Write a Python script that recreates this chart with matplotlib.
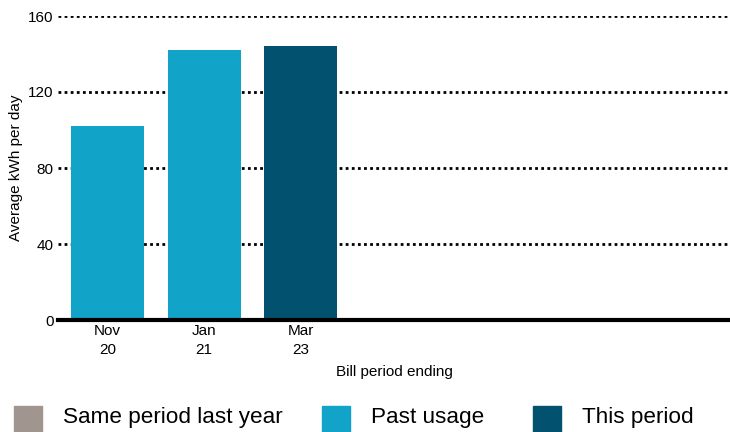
import matplotlib.pyplot as plt
from matplotlib.patches import Rectangle

plt.rcParams['font.family'] = ['Liberation Sans', 'DejaVu Sans']

periods = ["Nov\n20", "Jan\n21", "Mar\n23"]
usage = [102, 142, 144]
kinds = ["past", "past", "this"]
yticks = [0, 40, 80, 120, 160]

colors = {"last": "#a0968f", "past": "#12a3c8", "this": "#02526f"}
legend_items = [("last", "Same period last year"), ("past", "Past usage"), ("this", "This period")]

fig = plt.figure(figsize=(7.3, 4.32), dpi=100)
ax = fig.add_axes([58 / 730, 1 - 320 / 432, 672 / 730, 304 / 432])

x = list(range(len(periods)))
ax.bar(x, usage, width=0.76, color=[colors[k] for k in kinds], zorder=2)

ax.set_xlim(-0.515, 6.45)
ax.set_ylim(0, 160)
ax.set_yticks(yticks)
ax.set_xticks(x)
ax.set_xticklabels(periods, fontsize=11, linespacing=1.45)
ax.tick_params(axis='y', labelsize=11, length=0, pad=3)
ax.tick_params(axis='x', length=0, pad=3)
for v in yticks[1:]:
    ax.axhline(v, color="black", linestyle=(0, (1, 1.2)), linewidth=2, zorder=1)

for s in ["top", "right", "left"]:
    ax.spines[s].set_visible(False)
ax.spines["bottom"].set_linewidth(3)
ax.spines["bottom"].set_zorder(3)

ax.set_ylabel("Average kWh per day", fontsize=11, labelpad=4)
ax.set_xlabel("Bill period ending", fontsize=11, labelpad=6)

# legend
for (key, label), x0 in zip(legend_items, [14, 322, 533]):
    fig.add_artist(Rectangle((x0 / 730, 0), 28 / 730, 26 / 432,
                             transform=fig.transFigure, color=colors[key]))
    fig.text((x0 + 49) / 730, 14 / 432, label, fontsize=16.2, va="center", ha="left")

fig.savefig("out.png", dpi=100)
